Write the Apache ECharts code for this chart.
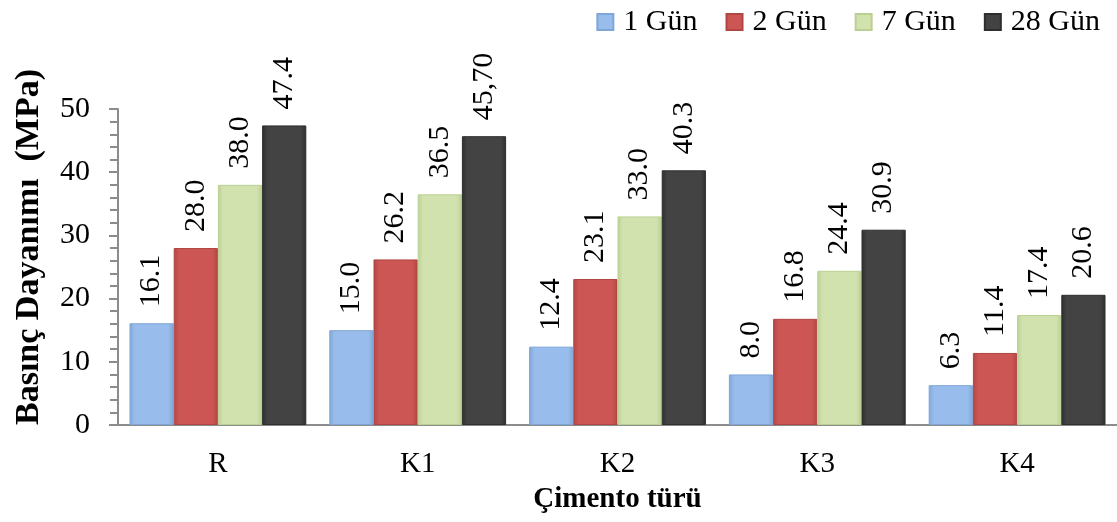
<!DOCTYPE html>
<html><head><meta charset="utf-8">
<script src="https://cdn.jsdelivr.net/npm/echarts@6/dist/echarts.min.js"></script>
<style>html,body{margin:0;padding:0;background:#fff}#c{width:1117px;height:522px}</style>
</head><body><div id="c"></div>
<script>
const categories = ['R', 'K1', 'K2', 'K3', 'K4'];
const seriesNames = ['1 Gün', '2 Gün', '7 Gün', '28 Gün'];
const gun1 = [16.1, 15.0, 12.4, 8.0, 6.3];
const gun2 = [28.0, 26.2, 23.1, 16.8, 11.4];
const gun7 = [38.0, 36.5, 33.0, 24.4, 17.4];
const gun28 = [47.4, 45.70, 40.3, 30.9, 20.6];
const labels1 = ['16.1', '15.0', '12.4', '8.0', '6.3'];
const labels2 = ['28.0', '26.2', '23.1', '16.8', '11.4'];
const labels7 = ['38.0', '36.5', '33.0', '24.4', '17.4'];
const labels28 = ['47.4', '45,70', '40.3', '30.9', '20.6'];
const yTicks = [0, 10, 20, 30, 40, 50];

const FONT = 'Liberation Serif';
const palettes = [
  ['#7FA6D8', '#98BDEC', '#7FA6D8'],
  ['#B04643', '#CB5653', '#B04643'],
  ['#BCCF93', '#D2E2AE', '#BCCF93'],
  ['#2E2E2E', '#434343', '#2E2E2E']
];
function grad(p) {
  return new echarts.graphic.LinearGradient(0, 0, 1, 0, [
    {offset: 0, color: p[0]}, {offset: 0.12, color: p[1]},
    {offset: 0.88, color: p[1]}, {offset: 1, color: p[2]}
  ]);
}
const values = [gun1, gun2, gun7, gun28];
const labelSets = [labels1, labels2, labels7, labels28];

const chart = echarts.init(document.getElementById('c'));
chart.setOption({
  animation: false,
  textStyle: {fontFamily: FONT},
  legend: {
    data: seriesNames.map((n, i) => ({name: n, itemStyle: {color: palettes[i][1]}})),
    right: 12, top: 2,
    itemWidth: 16, itemHeight: 16, itemGap: 28,
    icon: 'rect',
    textStyle: {fontFamily: FONT, fontSize: 30, color: '#000', padding: [0, 0, 0, 5]}
  },
  grid: {left: 118, right: 0, top: 109, bottom: 97, containLabel: false},
  xAxis: {
    type: 'category', data: categories,
    axisLine: {lineStyle: {color: '#8C8C8C', width: 2}},
    axisTick: {show: false},
    axisLabel: {fontFamily: FONT, fontSize: 29, color: '#000', margin: 25},
    name: 'Çimento türü', nameLocation: 'middle', nameGap: 60,
    nameTextStyle: {fontFamily: FONT, fontSize: 29, fontWeight: 'bold', color: '#000'}
  },
  yAxis: {
    type: 'value', min: 0, max: 50, interval: 10,
    axisLine: {show: true, lineStyle: {color: '#8C8C8C', width: 2}},
    axisTick: {show: true, length: 9, lineStyle: {color: '#8C8C8C', width: 2}},
    minorTick: {show: true, splitNumber: 5, length: 8, lineStyle: {color: '#8C8C8C', width: 2}},
    splitLine: {show: false},
    axisLabel: {fontFamily: FONT, fontSize: 30, color: '#000', margin: 28,
      formatter: v => yTicks.includes(v) ? String(v) : ''},
    name: 'Basınç Dayanımı  (MPa)', nameLocation: 'middle', nameGap: 72,
    nameTextStyle: {fontFamily: FONT, fontSize: 34, fontWeight: 'bold', color: '#000', padding: [0, 0, 0, 40]}
  },
  series: seriesNames.map((n, i) => ({
    name: n, type: 'bar',
    data: values[i],
    barGap: '0%', barCategoryGap: '11.5%',
    itemStyle: {color: grad(palettes[i]), borderColor: palettes[i][0], borderWidth: 1},
    label: {
      show: true, position: 'top', rotate: 90, align: 'left', verticalAlign: 'middle',
      distance: 16, fontFamily: FONT, fontSize: 30, color: '#000',
      formatter: p => '{v|' + labelSets[i][p.dataIndex] + '}',
      rich: {v: {fontFamily: FONT, fontSize: 30, color: '#000'}}
    }
  }))
});
</script></body></html>
